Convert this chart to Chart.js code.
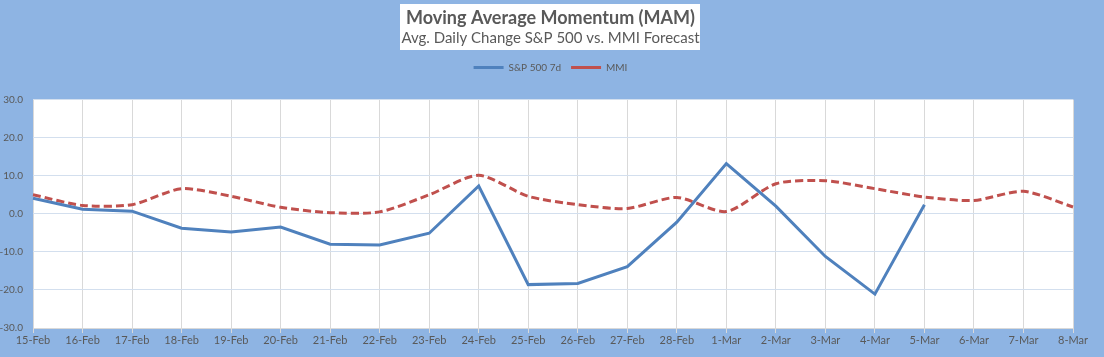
<!DOCTYPE html>
<html>
<head>
<meta charset="utf-8">
<script src="https://cdn.jsdelivr.net/npm/chart.js@4/dist/chart.umd.min.js"></script>
<style>
html,body{margin:0;padding:0;background:#8EB4E3;}
#wrap{width:1104px;height:357px;position:relative;}
</style>
</head>
<body>
<div id="wrap"><canvas id="c" width="1104" height="357"></canvas></div>
<script>
const categories = ["15-Feb","16-Feb","17-Feb","18-Feb","19-Feb","20-Feb","21-Feb","22-Feb","23-Feb","24-Feb","25-Feb","26-Feb","27-Feb","28-Feb","1-Mar","2-Mar","3-Mar","4-Mar","5-Mar","6-Mar","7-Mar","8-Mar"];
const sp500 = [4.1,1.2,0.7,-3.8,-4.8,-3.5,-8.0,-8.2,-5.1,7.3,-18.6,-18.3,-13.9,-2.2,13.2,2.0,-11.2,-21.1,2.4,null,null,null];
const mmi = [5.0,2.2,2.4,6.6,4.6,1.7,0.3,0.5,5.0,10.1,4.6,2.4,1.4,4.3,0.6,7.9,8.7,6.6,4.4,3.5,5.9,1.8];
const yTicks = [-30,-20,-10,0,10,20,30];
const titleText = "Moving Average Momentum (MAM)";
const subtitleText = "Avg. Daily Change S&P 500 vs. MMI Forecast";
const seriesNames = ["S&P 500 7d","MMI"];

const bgPlugin = {
  id: 'bg',
  beforeDraw(chart) {
    const ctx = chart.ctx;
    ctx.save();
    ctx.fillStyle = '#8EB4E3';
    ctx.fillRect(0, 0, chart.width, chart.height);
    ctx.fillStyle = '#FFFFFF';
    ctx.fillRect(400, 4, 300, 46);
    const a = chart.chartArea;
    ctx.fillRect(a.left, a.top, a.right - a.left, a.bottom - a.top);
    ctx.restore();
  }
};

const grey = '#595959';
new Chart(document.getElementById('c'), {
  type: 'line',
  data: {
    labels: categories,
    datasets: [
      {label: seriesNames[0], data: sp500, xAxisID: 'x', yAxisID: 'y', borderColor: '#4F81BD', backgroundColor: '#4F81BD', borderWidth: 3, pointRadius: 0, tension: 0, spanGaps: false},
      {label: seriesNames[1], data: mmi, xAxisID: 'x', yAxisID: 'y', borderColor: '#C0504D', backgroundColor: '#C0504D', borderWidth: 3, borderDash: [8,4], pointRadius: 0, tension: 0.25}
    ]
  },
  options: {
    responsive: false,
    animation: false,
    devicePixelRatio: 1,
    layout: {padding: {left: 0, right: 3, top: 0, bottom: 0}},
    plugins: {
      title: {display: true, text: titleText, color: grey, font: {family: 'Lato', size: 18, weight: 'bold', lineHeight: 1.2}, padding: {top: 7, bottom: 0}},
      subtitle: {display: true, text: subtitleText, color: grey, font: {family: 'Lato', size: 15, lineHeight: 1.2}, padding: {top: 1, bottom: 5}},
      legend: {display: true, labels: {color: grey, font: {family: 'Lato', size: 10}, usePointStyle: true, pointStyle: 'line', pointStyleWidth: 30, boxHeight: 10, padding: 10}},
      tooltip: {enabled: false}
    },
    scales: {
      x: {
        offset: false,
        grid: {color: '#D9D9D9', drawTicks: true, tickLength: 5, tickColor: '#D9D9D9', offset: false},
        border: {color: '#D9D9D9'},
        ticks: {color: grey, font: {family: 'Lato', size: 11}, maxRotation: 0, autoSkip: false, padding: 1},
        afterFit(s) { s.height = 29; }
      },
      y: {
        min: -30, max: 30,
        afterBuildTicks(s) { s.ticks = yTicks.map(v => ({value: v})); },
        grid: {color: '#D3DFEE', drawTicks: false},
        border: {display: false},
        ticks: {color: grey, font: {family: 'Lato', size: 10}, padding: 10, callback: v => Number(v).toFixed(1)},
        afterFit(s) { s.width = 33; }
      },
      xTop: {
        type: 'category', position: 'top', labels: categories, display: true,
        grid: {display: false, drawTicks: false}, border: {display: false},
        ticks: {display: false},
        afterFit(s) { s.height = 17; }
      },
      yRight: {
        type: 'linear', position: 'right', min: -30, max: 30, display: true,
        grid: {display: false, drawTicks: false}, border: {display: false},
        ticks: {display: false},
        afterFit(s) { s.width = 28; }
      }
    }
  },
  plugins: [bgPlugin]
});
</script>
</body>
</html>
